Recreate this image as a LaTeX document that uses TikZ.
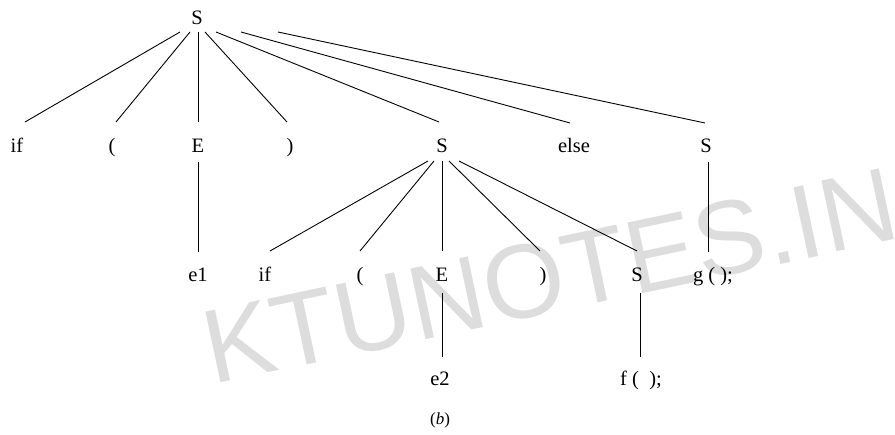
\documentclass[tikz,border=0pt]{standalone}
\usepackage{fontspec}
\setmainfont{Liberation Serif}
\newfontfamily\wmfont{Liberation Sans}
\definecolor{wmgray}{HTML}{DDDDDD}
\begin{document}
\begin{tikzpicture}[x=1pt,y=-1pt,
  lab/.style={anchor=base,inner sep=0pt,font=\fontsize{20.5}{24}\selectfont},
  edge/.style={line width=0.9pt,black}]
\useasboundingbox (0,0) rectangle (895,435);
% watermark
\node[anchor=base west,inner sep=0pt,rotate=12,text=wmgray,font=\wmfont\fontsize{105}{110}\selectfont] (wm) at (212,385) {KTUNOTES.IN};
% level 0
\node[lab] (S0) at (197,25) {S};
% level 1
\node[lab] (if1) at (17,153) {if};
\node[lab] (lp1) at (112,153) {(};
\node[lab] (E1) at (198,153) {E};
\node[lab] (rp1) at (290,153) {)};
\node[lab] (S1) at (442,153) {S};
\node[lab] (else) at (574,153) {else};
\node[lab] (S2) at (706,153) {S};
% level 2
\node[lab] (e1) at (198,282) {e1};
\node[lab] (if2) at (265,282) {if};
\node[lab] (lp2) at (360,282) {(};
\node[lab] (E2) at (442,282) {E};
\node[lab] (rp2) at (543,282) {)};
\node[lab] (S3) at (637,282) {S};
\node[lab] (g) at (713,282) {g ( );};
% level 3
\node[lab] (e2) at (440,386) {e2};
\node[lab] (f) at (641,386) {f ( \ );};
% caption
\node[lab,font=\fontsize{17}{20}\selectfont] (cap) at (440,425) {(\textit{b})};
% edges from root
\draw[edge] ([shift={(-17,7)}]S0.base) -- ([shift={(8,-31)}]if1.base);
\draw[edge] ([shift={(-7,7)}]S0.base) -- ([shift={(4,-31)}]lp1.base);
\draw[edge] ([shift={(1,7)}]S0.base) -- ([shift={(0,-31)}]E1.base);
\draw[edge] ([shift={(8,7)}]S0.base) -- ([shift={(-3,-31)}]rp1.base);
\draw[edge] ([shift={(19,7)}]S0.base) -- ([shift={(-3,-31)}]S1.base);
\draw[edge] ([shift={(44,7)}]S0.base) -- ([shift={(-4,-30)}]else.base);
\draw[edge] ([shift={(81,7)}]S0.base) -- ([shift={(-1,-30)}]S2.base);
% edges from inner S
\draw[edge] ([shift={(-14,8)}]S1.base) -- ([shift={(5,-31)}]if2.base);
\draw[edge] ([shift={(-8,8)}]S1.base) -- ([shift={(0,-31)}]lp2.base);
\draw[edge] ([shift={(0,8)}]S1.base) -- ([shift={(0,-31)}]E2.base);
\draw[edge] ([shift={(7,8)}]S1.base) -- ([shift={(-3,-31)}]rp2.base);
\draw[edge] ([shift={(17,8)}]S1.base) -- ([shift={(0,-31)}]S3.base);
% vertical edges
\draw[edge] ([shift={(0,9)}]E1.base) -- ([shift={(0,-30)}]e1.base);
\draw[edge] ([shift={(2,9)}]S2.base) -- ([shift={(-5,-30)}]g.base);
\draw[edge] ([shift={(0,11)}]E2.base) -- ([shift={(2,-29)}]e2.base);
\draw[edge] ([shift={(3,11)}]S3.base) -- ([shift={(-1,-29)}]f.base);
\end{tikzpicture}
\end{document}
